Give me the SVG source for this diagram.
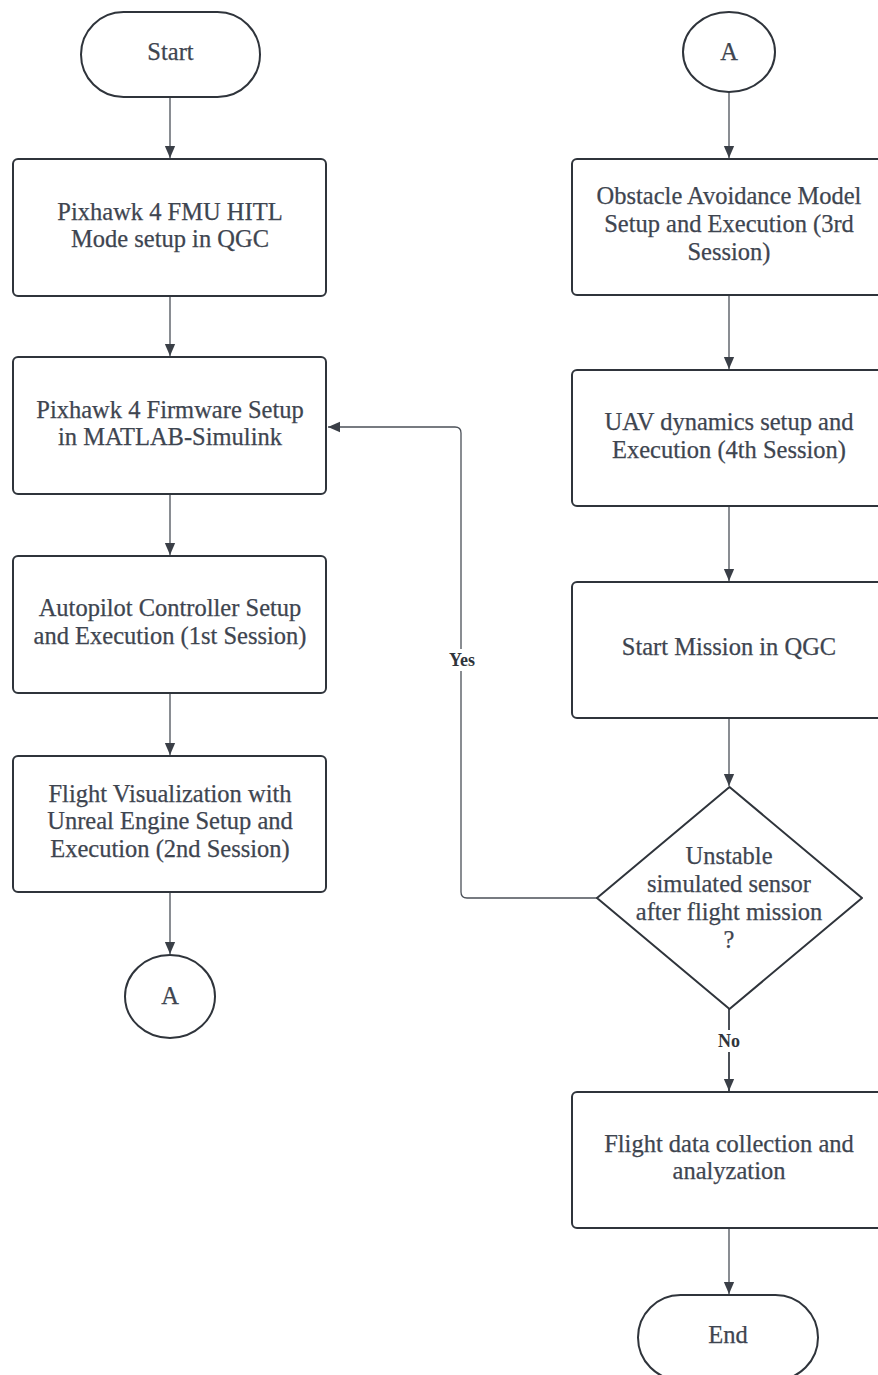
<svg xmlns="http://www.w3.org/2000/svg" width="878" height="1375" viewBox="0 0 878 1375">
<style>
.box{fill:#fff;stroke:#2f343b;stroke-width:2}
.t{font-family:"Liberation Serif","Times New Roman",serif;font-size:24.5px;fill:#3e4550;stroke:#3e4550;stroke-width:0.25;text-anchor:middle}
.lbl{font-family:"Liberation Serif","Times New Roman",serif;font-size:18px;font-weight:bold;fill:#2f343b;text-anchor:middle}
.c{fill:none;stroke:#4b5058;stroke-width:1.3}
</style>
<defs>
<marker id="ah" markerUnits="userSpaceOnUse" markerWidth="12" markerHeight="14" refX="14" refY="6" orient="auto" viewBox="0 0 14 12">
<path d="M0,0 L14,6 L0,12 z" fill="#3a3f47"/>
</marker>
</defs>
<rect width="878" height="1375" fill="#fff"/>
<g id="connectors">
<line class="c" x1="170" y1="97" x2="170" y2="158" marker-end="url(#ah)"/>
<line class="c" x1="170" y1="296" x2="170" y2="356" marker-end="url(#ah)"/>
<line class="c" x1="170" y1="494" x2="170" y2="555" marker-end="url(#ah)"/>
<line class="c" x1="170" y1="693" x2="170" y2="755" marker-end="url(#ah)"/>
<line class="c" x1="170" y1="892" x2="170" y2="954" marker-end="url(#ah)"/>
<line class="c" x1="729" y1="92" x2="729" y2="158" marker-end="url(#ah)"/>
<line class="c" x1="729" y1="295" x2="729" y2="369" marker-end="url(#ah)"/>
<line class="c" x1="729" y1="506" x2="729" y2="581" marker-end="url(#ah)"/>
<line class="c" x1="729" y1="718" x2="729" y2="786" marker-end="url(#ah)"/>
<line class="c" x1="729" y1="1009" x2="729" y2="1091" marker-end="url(#ah)" style="stroke-width:2"/>
<line class="c" x1="729" y1="1228" x2="729" y2="1294" marker-end="url(#ah)"/>
<path class="c" d="M597,898 L467,898 Q461,898 461,892 L461,433 Q461,427 455,427 L328,427" marker-end="url(#ah)"/>
<rect x="445" y="649" width="34" height="22" fill="#fff"/>
<text class="lbl" x="462" y="666">Yes</text>
<rect x="714" y="1030" width="30" height="22" fill="#fff"/>
<text class="lbl" x="729" y="1047">No</text>
</g>
<g id="start">
<rect class="box" x="81" y="12" width="179" height="85" rx="42.5"/>
<text class="t" x="170.5" y="60">Start</text>
</g>
<g id="n1">
<rect class="box" x="13" y="159" width="313" height="137" rx="5"/>
<text class="t" x="170" y="220">Pixhawk 4 FMU HITL</text>
<text class="t" x="170" y="247">Mode setup in QGC</text>
</g>
<g id="n2">
<rect class="box" x="13" y="357" width="313" height="137" rx="5"/>
<text class="t" x="170" y="418">Pixhawk 4 Firmware Setup</text>
<text class="t" x="170" y="445">in MATLAB-Simulink</text>
</g>
<g id="n3">
<rect class="box" x="13" y="556" width="313" height="137" rx="5"/>
<text class="t" x="170" y="616">Autopilot Controller Setup</text>
<text class="t" x="170" y="644">and Execution (1st Session)</text>
</g>
<g id="n4">
<rect class="box" x="13" y="756" width="313" height="136" rx="5"/>
<text class="t" x="170" y="802">Flight Visualization with</text>
<text class="t" x="170" y="829">Unreal Engine Setup and</text>
<text class="t" x="170" y="857">Execution (2nd Session)</text>
</g>
<g id="connA1">
<ellipse class="box" cx="170" cy="996.5" rx="45" ry="41.5"/>
<text class="t" x="170" y="1004">A</text>
</g>
<g id="connA2">
<ellipse class="box" cx="729" cy="52" rx="46" ry="40"/>
<text class="t" x="729" y="60">A</text>
</g>
<g id="r1">
<rect class="box" x="572" y="159" width="313" height="136" rx="5"/>
<text class="t" x="729" y="204">Obstacle Avoidance Model</text>
<text class="t" x="729" y="232">Setup and Execution (3rd</text>
<text class="t" x="729" y="260">Session)</text>
</g>
<g id="r2">
<rect class="box" x="572" y="370" width="313" height="136" rx="5"/>
<text class="t" x="729" y="430">UAV dynamics setup and</text>
<text class="t" x="729" y="458">Execution (4th Session)</text>
</g>
<g id="r3">
<rect class="box" x="572" y="582" width="313" height="136" rx="5"/>
<text class="t" x="729" y="655">Start Mission in QGC</text>
</g>
<g id="decision">
<path class="box" d="M729.5,787 L862,898 L729.5,1009 L597,898 Z" stroke-linejoin="round"/>
<text class="t" x="729" y="864">Unstable</text>
<text class="t" x="729" y="892">simulated sensor</text>
<text class="t" x="729" y="920">after flight mission</text>
<text class="t" x="729" y="948">?</text>
</g>
<g id="r4">
<rect class="box" x="572" y="1092" width="313" height="136" rx="5"/>
<text class="t" x="729" y="1152">Flight data collection and</text>
<text class="t" x="729" y="1179">analyzation</text>
</g>
<g id="end">
<rect class="box" x="638" y="1295" width="180" height="85" rx="42.5"/>
<text class="t" x="728" y="1343">End</text>
</g>
</svg>
